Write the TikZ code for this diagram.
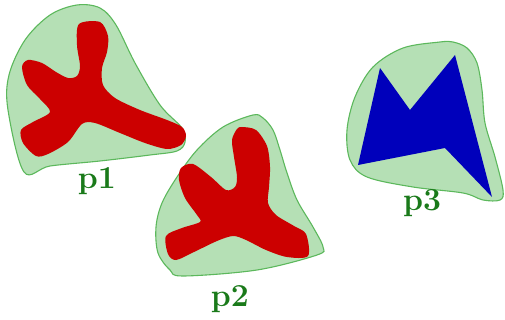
\documentclass[tikz,border=0pt]{standalone}
\usepackage{tikz}
\definecolor{blobfill}{HTML}{B5E0B5}
\definecolor{blobline}{HTML}{5CB85C}
\definecolor{partred}{HTML}{CC0000}
\definecolor{partblue}{HTML}{0000BB}
\definecolor{lblgreen}{HTML}{1A7A1A}
\tikzset{
  blob/.style={fill=blobfill, draw=blobline, line width=1.1pt},
  redpart/.style={fill=partred},
  bluepart/.style={fill=partblue},
  lbl/.style={text=lblgreen, font=\fontsize{32}{34}\selectfont\bfseries, anchor=base}
}
\begin{document}
\begin{tikzpicture}[x=1pt, y=-1pt]
    \useasboundingbox (0,0) rectangle (505,320);
    % p1
    \draw[blob] plot[smooth cycle, tension=0.55] coordinates {
      (24,172) (8,110) (9,75) (25,40) (50,15) (77,5) (100,8) (116,25)
      (135,63) (160,105) (182,128) (185,142) (177,151) (150,155) (100,161) (50,166)};
    \fill[redpart] plot[smooth cycle, tension=0.5] coordinates {
      (79,24) (100,22) (108,36) (107,52) (102,68) (103,85) (115,98) (140,110)
      (167,120) (182,127) (186,136) (181,145) (167,149) (145,143) (120,133)
      (95,123) (82,124) (68,142) (48,154) (36,156) (23,143) (21,130) (33,122)
      (50,112) (40,99) (27,85) (22,67) (28,60) (42,63) (56,72) (68,78) (77,76)
      (80,66) (77,45)};
    \node[lbl] (p1) at (97,189) {p1};
    % p2
    \draw[blob] plot[smooth cycle, tension=0.55] coordinates {
      (253,115) (223,127) (197,150) (177,177) (162,203) (156,227) (158,253)
      (170,270) (183,276) (257,270) (317,255) (323,247) (313,227) (297,200)
      (287,173) (280,150) (273,130) (263,118)};
    \fill[redpart] plot[smooth cycle, tension=0.5] coordinates {
      (242,127) (256,130) (267,146) (270,167) (269,187) (268,203) (276,215)
      (294,226) (306,234) (308,256) (287,257) (266,250) (246,240) (233,236)
      (217,241) (194,252) (176,260) (168,254) (166,236) (182,228) (200,222)
      (197,215) (185,198) (179,180) (181,168) (193,164) (211,177) (226,190)
      (235,187) (237,177) (234,157) (232,140) (237,129)};
    \node[lbl] (p2) at (230,306) {p2};
    % p3
    \draw[blob] plot[smooth cycle, tension=0.55] coordinates {
      (440,42) (403,48) (373,67) (355,97) (347,130) (350,160) (367,177)
      (413,187) (463,193) (483,200) (500,200) (503,190) (495,157) (485,123)
      (482,90) (477,63) (467,48) (453,42)};
    \fill[bluepart] (380,68) -- (410,110) -- (455,55) -- (492,197)
      -- (445,148) -- (358,165) -- cycle;
    \node[lbl] (p3) at (422,211) {p3};
\end{tikzpicture}
\end{document}
